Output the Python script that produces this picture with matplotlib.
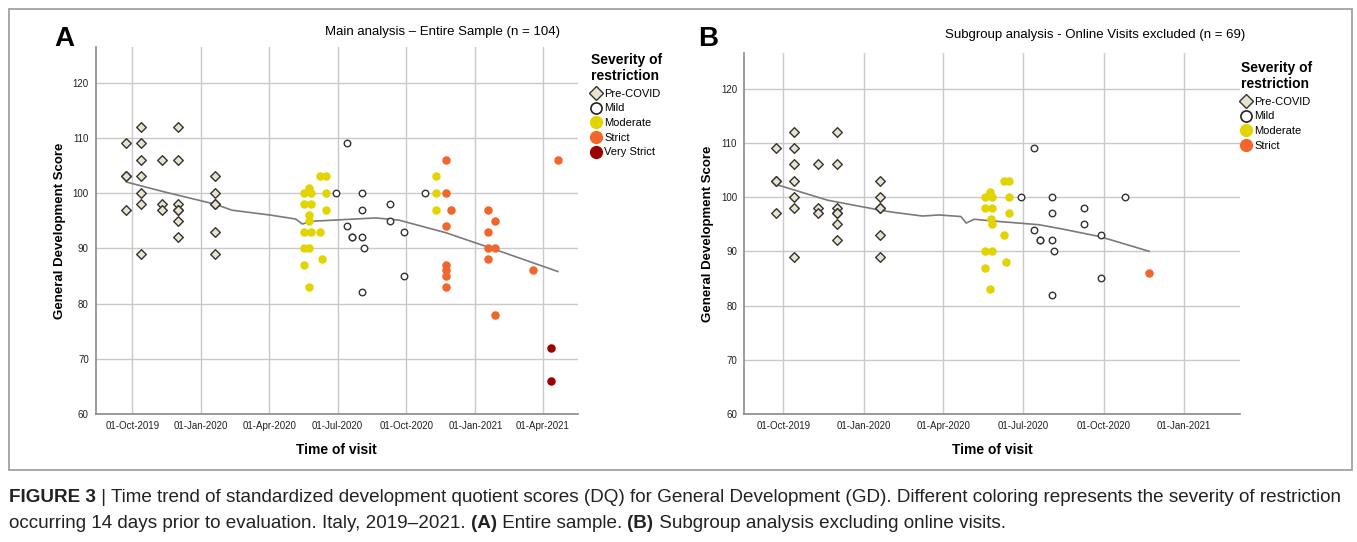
import matplotlib
matplotlib.use('Agg')
import matplotlib.pyplot as plt
import matplotlib.dates as mdates
from matplotlib.lines import Line2D
from matplotlib.patches import Rectangle
import numpy as np

plt.rcParams['font.family'] = ['Liberation Sans', 'DejaVu Sans']

# ---- data ----
pre_dates = (['2019-09-23'] * 4 + ['2019-10-13'] * 7 + ['2019-11-10'] * 3 +
             ['2019-12-01'] * 7 + ['2020-01-19'] * 6)
pre_vals = [109, 103, 103, 97,
            112, 109, 106, 103, 100, 98, 89,
            106, 98, 97,
            112, 106, 98, 97, 97, 95, 92,
            103, 100, 98, 98, 93, 89]

mild_dates = ['2020-06-29', '2020-07-13', '2020-07-13', '2020-07-20', '2020-07-20',
              '2020-08-03', '2020-08-03', '2020-08-03', '2020-08-05', '2020-08-03',
              '2020-09-09', '2020-09-09', '2020-09-28', '2020-09-28', '2020-10-26']
mild_vals = [100, 109, 94, 92, 92, 100, 97, 92, 90, 82, 98, 95, 93, 85, 100]

modA_dates = (['2020-05-17'] * 5 + ['2020-05-24'] * 5 + ['2020-05-26'] * 3 +
              ['2020-06-08', '2020-06-08', '2020-06-10'] + ['2020-06-15'] * 3 +
              ['2020-11-09'] * 3)
modA_vals = [100, 98, 93, 90, 87,
             101, 96, 95, 90, 83,
             100, 98, 93,
             103, 93, 88,
             103, 100, 97,
             103, 100, 97]

modB_dates = (['2020-05-18'] * 4 + ['2020-05-24'] * 2 + ['2020-05-25'] +
              ['2020-05-26'] * 3 + ['2020-05-27'] +
              ['2020-06-09', '2020-06-09', '2020-06-12'] + ['2020-06-15'] * 3)
modB_vals = [100, 98, 90, 87,
             101, 83, 96,
             98, 95, 90, 100,
             103, 93, 88,
             103, 100, 97]

strictA_dates = (['2020-11-23'] * 7 + ['2020-11-29'] + ['2021-01-18'] * 4 +
                 ['2021-01-27'] * 3 + ['2021-03-19', '2021-04-21'])
strictA_vals = [106, 100, 94, 87, 86, 85, 83,
                97,
                97, 93, 90, 88,
                95, 90, 78,
                86, 106]

strictB_dates = ['2020-11-22']
strictB_vals = [86]

vstrict_dates = ['2021-04-12', '2021-04-12']
vstrict_vals = [72, 66]

trendA_dates = ['2019-09-23', '2019-11-10', '2020-01-19', '2020-02-11', '2020-04-03',
                '2020-05-06', '2020-05-15', '2020-05-28', '2020-08-21', '2020-09-21',
                '2020-11-23', '2021-01-29', '2021-04-21']
trendA_vals = [102.0, 100.3, 98.0, 96.9, 96.0, 95.3, 94.4, 94.9, 95.5, 95.1, 92.8, 89.7, 85.8]

trendB_dates = ['2019-09-23', '2019-11-21', '2020-01-19', '2020-02-03', '2020-03-08',
                '2020-03-27', '2020-04-21', '2020-04-27', '2020-05-06', '2020-06-03',
                '2020-07-19', '2020-08-15', '2020-09-27', '2020-11-22']
trendB_vals = [102.3, 99.4, 97.6, 97.2, 96.5, 96.7, 96.4, 95.2, 95.9, 95.5, 94.9, 94.1, 92.7, 90.0]

xticksA = ['2019-10-01', '2020-01-01', '2020-04-01', '2020-07-01', '2020-10-01',
           '2021-01-01', '2021-04-01']
xticksB = xticksA[:6]
yticks = [60, 70, 80, 90, 100, 110, 120]


def d(lst):
    return np.array(lst, dtype='datetime64[D]')


c_pre = '#e9e2cc'
c_mod = '#e3d400'
c_strict = '#f2662b'
c_vstrict = '#9c0000'
c_grid = '#c9c9c9'

fig = plt.figure(figsize=(13.57, 5.42), dpi=100)
W, H = 1357.0, 542.0

axA = fig.add_axes([95.7 / W, 1 - 414 / H, (578 - 95.7) / W, (414 - 46.7) / H])
axB = fig.add_axes([744 / W, 1 - 414 / H, (1240 - 744) / W, (414 - 53.3) / H])


def style(ax, xticks, xlim):
    ax.set_xlim(d(xlim))
    ax.set_ylim(60, 126.5)
    ax.set_yticks(yticks)
    ax.set_xticks(d(xticks))
    ax.xaxis.set_major_formatter(mdates.DateFormatter('%d-%b-%Y'))
    ax.grid(True, color=c_grid, lw=1)
    ax.set_axisbelow(True)
    for s in ['top', 'right']:
        ax.spines[s].set_visible(False)
    for s in ['left', 'bottom']:
        ax.spines[s].set_color('#8a8a8a')
        ax.spines[s].set_linewidth(1.2)
    ax.tick_params(length=0, labelsize=7, colors='#222222')
    ax.tick_params(axis='x', pad=5)
    ax.tick_params(axis='y', pad=5)
    ax.set_xlabel('Time of visit', fontsize=10, fontweight='bold', labelpad=9)
    ax.set_ylabel('General Development Score', fontsize=9.5, fontweight='bold', labelpad=5)


style(axA, xticksA, ['2019-08-13', '2021-05-18'])
style(axB, xticksB, ['2019-08-17', '2021-03-06'])

for ax, tr_d, tr_v in [(axA, trendA_dates, trendA_vals), (axB, trendB_dates, trendB_vals)]:
    ax.plot(d(tr_d), tr_v, color='#7a7a7a', lw=1.2, zorder=2)
    ax.scatter(d(pre_dates), pre_vals, marker='D', s=24, facecolor=c_pre,
               edgecolor='#333333', linewidths=1.0, zorder=3)
    ax.scatter(d(mild_dates), mild_vals, marker='o', s=22, facecolor='white',
               edgecolor='#333333', linewidths=1.0, zorder=3)

axA.scatter(d(modA_dates), modA_vals, marker='o', s=26, color=c_mod, zorder=3)
axA.scatter(d(strictA_dates), strictA_vals, marker='o', s=26, color=c_strict, zorder=3)
axA.scatter(d(vstrict_dates), vstrict_vals, marker='o', s=26, color=c_vstrict, zorder=3)
axB.scatter(d(modB_dates), modB_vals, marker='o', s=26, color=c_mod, zorder=3)
axB.scatter(d(strictB_dates), strictB_vals, marker='o', s=26, color=c_strict, zorder=3)

# legends
labels = ['Pre-COVID', 'Mild', 'Moderate', 'Strict', 'Very Strict']
handles = [
    Line2D([], [], ls='none', marker='D', ms=7.5, mfc=c_pre, mec='#333333', mew=1.0),
    Line2D([], [], ls='none', marker='o', ms=8, mfc='white', mec='#222222', mew=1.2),
    Line2D([], [], ls='none', marker='o', ms=8.5, mfc=c_mod, mec=c_mod),
    Line2D([], [], ls='none', marker='o', ms=8.5, mfc=c_strict, mec=c_strict),
    Line2D([], [], ls='none', marker='o', ms=8.5, mfc=c_vstrict, mec=c_vstrict),
]
for ax, n, x0, y0 in [(axA, 5, 591, 53), (axB, 4, 1241, 61)]:
    leg = ax.legend(handles[:n], labels[:n], title='Severity of\nrestriction',
                    loc='upper left', bbox_to_anchor=(x0 / W, 1 - y0 / H),
                    bbox_transform=fig.transFigure, frameon=False, fontsize=8,
                    title_fontproperties={'weight': 'bold', 'size': 10},
                    handlelength=0.9, handletextpad=0.3, labelspacing=0.42,
                    borderpad=0, borderaxespad=0, alignment='left')
    leg._legend_box.sep = 4

# titles and panel letters
fig.text(443 / W, 1 - 32 / H, 'Main analysis \u2013 Entire Sample (n = 104)',
         ha='center', va='center', fontsize=9.5)
fig.text(1095 / W, 1 - 35 / H, 'Subgroup analysis - Online Visits excluded (n = 69)',
         ha='center', va='center', fontsize=9.5)
fig.text(54 / W, 1 - 39 / H, 'A', ha='left', va='center', fontsize=20, fontweight='bold')
fig.text(698 / W, 1 - 39 / H, 'B', ha='left', va='center', fontsize=20, fontweight='bold')

# outer frame
fig.patches.append(Rectangle((9 / W, 1 - 470 / H), (1352 - 9) / W, (470 - 9) / H,
                             transform=fig.transFigure, fill=False,
                             edgecolor='#9a9a9a', lw=1.2))

# caption with mixed bold runs
cap_font = ['Liberation Sans', 'DejaVu Sans']
renderer = fig.canvas.get_renderer()


def rich(x_px, y_px, parts, size=13.6):
    x = x_px
    for txt, bold in parts:
        t = fig.text(x / W, 1 - y_px / H, txt, ha='left', va='center', fontsize=size,
                     fontweight='bold' if bold else 'normal', family=cap_font,
                     color='#222222')
        x += t.get_window_extent(renderer).width


rich(9, 497, [('FIGURE 3', True), (' | ', False),
              ('Time trend of standardized development quotient scores (DQ) for General '
               'Development (GD). Different coloring represents the severity of restriction', False)])
rich(9, 523, [('occurring 14 days prior to evaluation. Italy, 2019\u20132021. ', False),
              ('(A)', True), (' Entire sample. ', False), ('(B)', True),
              (' Subgroup analysis excluding online visits.', False)])

fig.savefig('out.png', dpi=100)
